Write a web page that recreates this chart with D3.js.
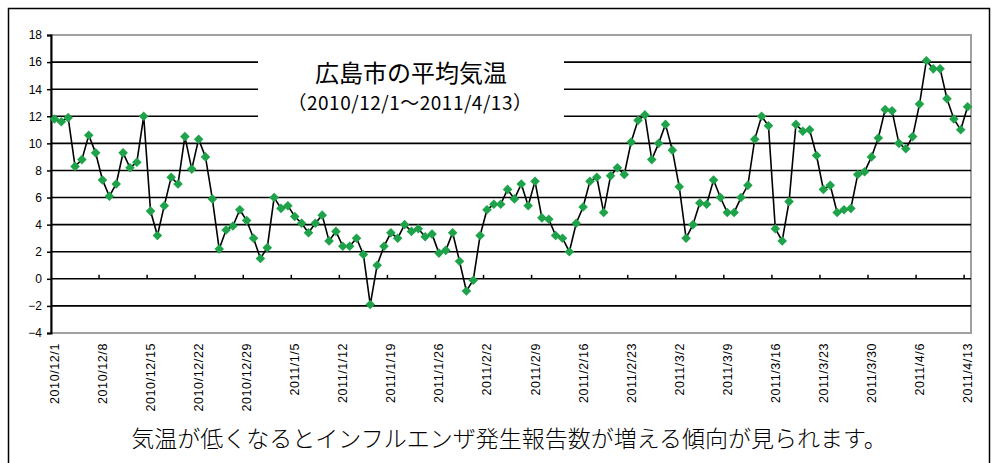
<!DOCTYPE html>
<html>
<head>
<meta charset="utf-8">
<script src="https://cdn.jsdelivr.net/npm/d3@7"></script>
<style>
  body { margin: 0; background: #fff; }
  svg { display: block; }
</style>
</head>
<body>
<div id="chart"></div>
<script>
// daily mean temperature, Hiroshima, 2010/12/1 - 2011/4/13
var temps = [
  11.8, 11.6, 11.9, 8.3, 8.8, 10.6, 9.3, 7.3, 6.1, 7.0,
  9.3, 8.2, 8.6, 12.0, 5.0, 3.2, 5.4, 7.5, 7.0, 10.5,
  8.1, 10.3, 9.0, 5.9, 2.2, 3.6, 3.9, 5.1, 4.3, 3.0,
  1.5, 2.3, 6.0, 5.2, 5.4, 4.6, 4.1, 3.4, 4.1, 4.7,
  2.8, 3.5, 2.4, 2.4, 3.0, 1.8, -1.9, 1.0, 2.4, 3.4,
  3.0, 4.0, 3.5, 3.7, 3.1, 3.3, 1.9, 2.1, 3.4, 1.3,
  -0.9, -0.1, 3.2, 5.1, 5.5, 5.5, 6.6, 5.9, 7.0, 5.4,
  7.2, 4.5, 4.4, 3.2, 3.0, 2.0, 4.1, 5.3, 7.2, 7.5,
  4.9, 7.6, 8.2, 7.7, 10.1, 11.7, 12.1, 8.8, 10.0, 11.4,
  9.5, 6.8, 3.0, 4.0, 5.6, 5.5, 7.3, 6.0, 4.9, 4.9,
  6.0, 6.9, 10.3, 12.0, 11.3, 3.7, 2.8, 5.7, 11.4, 10.9,
  11.0, 9.1, 6.6, 6.9, 4.9, 5.1, 5.2, 7.7, 7.9, 9.0,
  10.4, 12.5, 12.4, 10.0, 9.6, 10.5, 12.9, 16.1, 15.5, 15.5,
  13.3, 11.8, 11.0, 12.7
]

var tickLabels = ["2010/12/1", "2010/12/8", "2010/12/15", "2010/12/22", "2010/12/29",
  "2011/1/5", "2011/1/12", "2011/1/19", "2011/1/26", "2011/2/2", "2011/2/9",
  "2011/2/16", "2011/2/23", "2011/3/2", "2011/3/9", "2011/3/16", "2011/3/23",
  "2011/3/30", "2011/4/6", "2011/4/13"]

var yTicks = [-4, -2, 0, 2, 4, 6, 8, 10, 12, 14, 16, 18]

var title = "広島市の平均気温"
var subtitle = "（2010/12/1～2011/4/13）"
var caption = "気温が低くなるとインフルエンザ発生報告数が増える傾向が見られます。"

var W = 996, H = 463
var PLOT = {LEFT: 51, RIGHT: 971, TOP: 35, BOTTOM: 333}

var fmt = d3.timeFormat("%Y/%-m/%-d")
var days = d3.timeDay.range(new Date(2010, 11, 1), new Date(2011, 3, 14)).map(fmt)

var data = days.map(function(d, i){ return {date: d, value: temps[i]} })

var svg = d3.select("#chart").append("svg")
  .attr("width", W)
  .attr("height", H)

// outer frame
svg.append("rect")
  .attr("x", 8.5).attr("y", 8.5)
  .attr("width", 981).attr("height", 480)
  .attr("fill", "none")
  .attr("stroke", "black")
  .attr("stroke-width", 1.5)

var x = d3.scalePoint()
  .domain(days)
  .range([PLOT.LEFT, PLOT.RIGHT])
  .padding(0.5)

var y = d3.scaleLinear()
  .domain([-4, 18])
  .range([PLOT.BOTTOM, PLOT.TOP])

// plot area border
svg.append("rect")
  .attr("x", PLOT.LEFT).attr("y", PLOT.TOP)
  .attr("width", PLOT.RIGHT - PLOT.LEFT).attr("height", PLOT.BOTTOM - PLOT.TOP)
  .attr("fill", "white")
  .attr("stroke", "#a0a0a0")
  .attr("stroke-width", 2)

// gridlines
svg.append("g")
  .selectAll("line")
  .data(yTicks.filter(function(v){ return v > -4 && v < 18 }))
  .enter()
  .append("line")
    .attr("x1", PLOT.LEFT).attr("x2", PLOT.RIGHT)
    .attr("y1", function(d){ return y(d) })
    .attr("y2", function(d){ return y(d) })
    .attr("stroke", "black")
    .attr("stroke-width", 1.6)

// title box covers the gridlines
svg.append("rect")
  .attr("x", 258).attr("y", 46)
  .attr("width", 306).attr("height", 82)
  .attr("fill", "white")

svg.append("text")
  .attr("x", 411).attr("y", 82)
  .attr("text-anchor", "middle")
  .style("font-family", "'Noto Sans CJK JP', sans-serif")
  .style("font-size", "24px")
  .text(title)

svg.append("text")
  .attr("x", 410).attr("y", 110)
  .attr("text-anchor", "middle")
  .style("font-family", "'Noto Sans CJK JP', sans-serif")
  .style("font-size", "19px")
  .style("letter-spacing", "0.5px")
  .text(subtitle)

// y axis
var yAxis = d3.axisLeft(y)
  .tickValues(yTicks)
  .tickSize(4)
  .tickFormat(function(d){ return d < 0 ? "\u2212" + Math.abs(d) : d })

svg.append("g")
  .attr("transform", "translate(" + PLOT.LEFT + ",0)")
  .call(yAxis)
  .call(function(g){
    g.select(".domain").attr("stroke", "black").attr("stroke-width", 2)
    g.selectAll(".tick line").attr("stroke", "black").attr("stroke-width", 1.5)
    g.selectAll("text")
      .attr("x", -9)
      .style("font-family", "'Liberation Sans', Arial, sans-serif")
      .style("font-size", "12px")
      .attr("fill", "black")
  })

// category tick marks on the zero line, every 7 days
var step = x.step()
var tickPos = d3.range(7, days.length + 1, 7)
svg.append("g")
  .selectAll("line")
  .data(tickPos)
  .enter()
  .append("line")
    .attr("x1", function(d){ return PLOT.LEFT + d * step })
    .attr("x2", function(d){ return PLOT.LEFT + d * step })
    .attr("y1", y(0))
    .attr("y2", y(0) - 4)
    .attr("stroke", "black")
    .attr("stroke-width", 1.5)

// rotated date labels
svg.append("g")
  .selectAll("text")
  .data(tickLabels)
  .enter()
  .append("text")
    .attr("transform", function(d){ return "translate(" + (x(d) + 4.5) + "," + (PLOT.BOTTOM + 10) + ") rotate(-90)" })
    .attr("text-anchor", "end")
    .style("font-family", "'Liberation Sans', Arial, sans-serif")
    .style("font-size", "12.5px")
    .style("letter-spacing", "0.6px")
    .text(function(d){ return d })

// series
var line = d3.line()
  .x(function(d){ return x(d.date) })
  .y(function(d){ return y(d.value) })

svg.append("path")
  .datum(data)
  .attr("d", line)
  .attr("fill", "none")
  .attr("stroke", "black")
  .attr("stroke-width", 1.6)

svg.append("g")
  .selectAll("path")
  .data(data)
  .enter()
  .append("path")
    .attr("d", d3.symbol().type(d3.symbolSquare).size(46))
    .attr("transform", function(d){ return "translate(" + x(d.date) + "," + y(d.value) + ") rotate(45)" })
    .attr("fill", "#1fa34a")

svg.append("text")
  .attr("x", 509).attr("y", 447)
  .attr("text-anchor", "middle")
  .style("font-family", "'Noto Sans CJK JP', sans-serif")
  .style("font-size", "23px")
  .style("font-weight", 300)
  .text(caption)
</script>
</body>
</html>
